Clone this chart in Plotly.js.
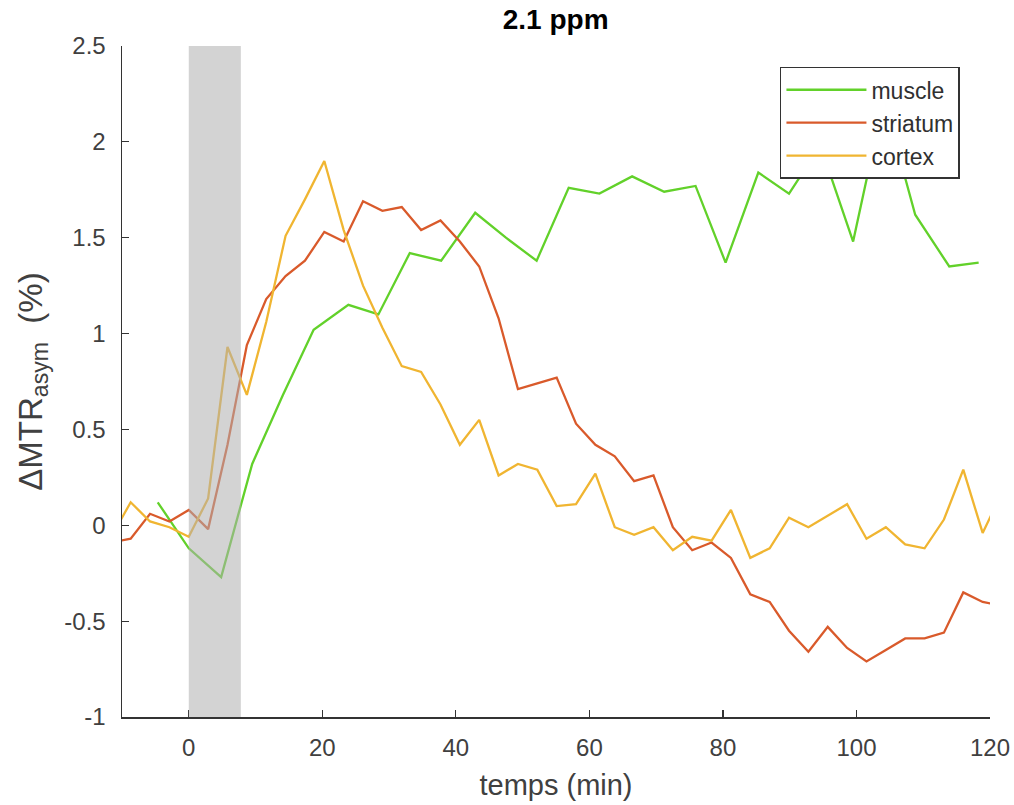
<!DOCTYPE html>
<html>
<head>
<meta charset="utf-8">
<script src="https://cdn.plot.ly/plotly-3.0.1.min.js"></script>
<style>html,body{margin:0;padding:0;background:#fff;}#chart{width:1014px;height:805px;}</style>
</head>
<body>
<div id="chart"></div>
<script>
// Time points (min)
var timeBrain = [-11.6,-8.7,-5.8,-2.9,0,2.9,5.8,8.7,11.6,14.5,17.4,20.3,23.2,26.1,29,31.9,34.8,37.7,40.6,43.5,46.4,49.3,52.2,55.1,58,60.9,63.8,66.7,69.6,72.5,75.4,78.3,81.2,84.1,87,89.9,92.8,95.7,98.6,101.5,104.4,107.3,110.2,113.1,116,118.9,121.8];
var timeMuscle = [-4.65,0,4.85,9.5,14.1,18.7,23.9,28.4,33.1,37.8,42.9,47.5,52.1,56.9,61.5,66.4,71.2,75.9,80.4,85.3,89.9,94.6,99.5,104.1,108.8,113.9,118.3];

// ΔMTRasym (%)
var muscle = [0.12,-0.12,-0.27,0.32,0.68,1.02,1.15,1.10,1.42,1.38,1.63,1.50,1.38,1.76,1.73,1.82,1.74,1.77,1.37,1.84,1.73,1.98,1.48,2.22,1.62,1.35,1.37];
var striatum = [-0.09,-0.07,0.06,0.02,0.08,-0.02,0.42,0.94,1.18,1.30,1.38,1.53,1.48,1.69,1.64,1.66,1.54,1.59,1.48,1.35,1.08,0.71,0.74,0.77,0.53,0.42,0.36,0.23,0.26,-0.01,-0.13,-0.09,-0.17,-0.36,-0.40,-0.55,-0.66,-0.53,-0.64,-0.71,-0.65,-0.59,-0.59,-0.56,-0.35,-0.40,-0.42];
var cortex = [-0.06,0.12,0.02,-0.01,-0.06,0.14,0.93,0.68,1.06,1.51,1.70,1.90,1.54,1.25,1.03,0.83,0.80,0.63,0.42,0.55,0.26,0.32,0.29,0.10,0.11,0.27,-0.01,-0.05,-0.01,-0.13,-0.06,-0.08,0.08,-0.17,-0.12,0.04,-0.01,0.05,0.11,-0.07,-0.01,-0.10,-0.12,0.03,0.29,-0.04,0.17];

// injection window (min)
var injection = [0, 7.8];

var seriesNames = ['muscle','striatum','cortex'];
var colors = ['#62d12a','#d95a2b','#f0b531'];
var xTicks = [0,20,40,60,80,100,120];
var yTicks = [-1,-0.5,0,0.5,1,1.5,2,2.5];
var yTickText = ['-1','-0.5','0','0.5','1','1.5','2','2.5'];

var font = 'Liberation Sans, Arial, sans-serif';

var traces = [
  {x: timeMuscle, y: muscle, name: seriesNames[0]},
  {x: timeBrain, y: striatum, name: seriesNames[1]},
  {x: timeBrain, y: cortex, name: seriesNames[2]}
].map(function(t, i){
  t.type = 'scatter'; t.mode = 'lines';
  t.line = {color: colors[i], width: 2.3};
  t.legendgroup = 'g' + i;
  return t;
});

var layout = {
  width: 1014, height: 805,
  margin: {l: 122, r: 24, t: 46, b: 88},
  paper_bgcolor: '#fff', plot_bgcolor: '#fff',
  font: {family: font, color: '#404040', size: 24},
  title: {text: '<b>2.1 ppm</b>', x: 0.548, xanchor: 'center', y: 0.976, yanchor: 'middle',
          font: {family: font, size: 28, color: '#000'}},
  xaxis: {
    range: [-10, 120], tickvals: xTicks,
    ticks: 'inside', ticklen: 7, tickcolor: '#333', tickwidth: 1.2,
    showline: true, linecolor: '#333', linewidth: 1.5, mirror: false,
    showgrid: false, zeroline: false, ticklabelstandoff: 9,
    tickfont: {size: 24, color: '#404040'},
    title: {text: 'temps (min)', font: {size: 29, color: '#404040'}, standoff: 14}
  },
  yaxis: {
    range: [-1, 2.5], tickvals: yTicks, ticktext: yTickText,
    ticks: 'inside', ticklen: 7, tickcolor: '#333', tickwidth: 1.2,
    showline: true, linecolor: '#333', linewidth: 1.5, mirror: false,
    showgrid: false, zeroline: false, ticklabelstandoff: 10,
    tickfont: {size: 24, color: '#404040'},
    title: {text: '\u0394MTR<sub>asym</sub>  (%)', font: {size: 33, color: '#404040'}, standoff: 12}
  },
  showlegend: true,
  legend: {
    x: 0.758, y: 0.969, xanchor: 'left', yanchor: 'top',
    bgcolor: '#fff', bordercolor: '#333', borderwidth: 1.5,
    font: {size: 23, color: '#303030'},
    traceorder: 'grouped', tracegroupgap: 0,
    itemwidth: 80
  },
  shapes: [{
    type: 'rect', xref: 'x', yref: 'paper',
    x0: injection[0], x1: injection[1], y0: 0, y1: 1,
    fillcolor: 'rgb(175,175,175)', opacity: 0.55, line: {width: 0}, layer: 'above'
  }]
};

Plotly.newPlot('chart', traces, layout, {displayModeBar: false, staticPlot: true});
</script>
</body>
</html>
